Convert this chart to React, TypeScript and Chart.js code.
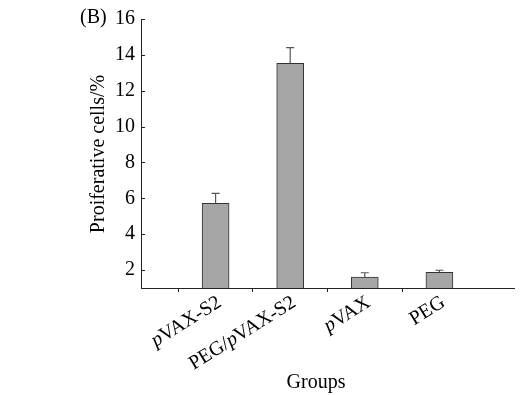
import React, { useEffect, useRef } from "react";
import { Chart, registerables } from "chart.js";

Chart.register(...registerables);

const categories = ["pVAX-S2", "PEG/pVAX-S2", "pVAX", "PEG"];
const means = [5.72, 13.53, 1.61, 1.88];
const errTops = [6.28, 14.4, 1.85, 1.99];
const yTicks = [2, 4, 6, 8, 10, 12, 14, 16];
const yTitle = "Proiferative cells/%";
const xTitle = "Groups";
const panelLabel = "(B)";

const FONT = "'Liberation Serif', 'Times New Roman', serif";
const FS = 20;

export default function App() {
  const ref = useRef<HTMLCanvasElement | null>(null);

  useEffect(() => {
    document.body.style.margin = "0";
    const labels = ["", ...categories, ""];
    const data = [null, ...means, null];

    const decor = {
      id: "decor",
      afterDatasetsDraw(chart: any) {
        const ctx = chart.ctx;
        const meta = chart.getDatasetMeta(0);
        const ys = chart.scales.y;
        ctx.save();
        ctx.strokeStyle = "#555";
        ctx.lineWidth = 1.2;
        meta.data.forEach((bar: any, i: number) => {
          const k = i - 1;
          if (k < 0 || k >= categories.length) return;
          const x = bar.x;
          const yTop = bar.y;
          const yErr = ys.getPixelForValue(errTops[k]);
          ctx.beginPath();
          ctx.moveTo(x, yTop);
          ctx.lineTo(x, yErr);
          ctx.moveTo(x - 4, yErr);
          ctx.lineTo(x + 4, yErr);
          ctx.stroke();
        });
        ctx.restore();
      },
      afterDraw(chart: any) {
        const ctx = chart.ctx;
        const xs = chart.scales.x;
        const ys = chart.scales.y;
        const area = chart.chartArea;
        ctx.save();
        // inward y ticks
        ctx.strokeStyle = "#222";
        ctx.lineWidth = 1;
        yTicks.forEach((v) => {
          const y = Math.round(ys.getPixelForValue(v)) + 0.5;
          ctx.beginPath();
          ctx.moveTo(area.left, y);
          ctx.lineTo(area.left + 4, y);
          ctx.stroke();
        });
        ctx.fillStyle = "#000";
        // x tick labels with italic p
        const angle = (-32 * Math.PI) / 180;
        categories.forEach((lab, k) => {
          const x = xs.getPixelForValue(k + 1);
          const parts: { t: string; it: boolean }[] = [];
          let buf = "";
          for (let i = 0; i < lab.length; i++) {
            const c = lab[i];
            if (c === "p") {
              if (buf) parts.push({ t: buf, it: false });
              buf = "";
              parts.push({ t: "p", it: true });
            } else buf += c;
          }
          if (buf) parts.push({ t: buf, it: false });
          let total = 0;
          const widths = parts.map((p) => {
            ctx.font = `${p.it ? "italic " : ""}${FS}px ${FONT}`;
            const w = ctx.measureText(p.t).width;
            total += w;
            return w;
          });
          ctx.save();
          ctx.translate(x + 4, area.bottom + 13);
          ctx.rotate(angle);
          ctx.textBaseline = "middle";
          ctx.textAlign = "left";
          let cx = -total;
          parts.forEach((p, i) => {
            ctx.font = `${p.it ? "italic " : ""}${FS}px ${FONT}`;
            ctx.fillText(p.t, cx, 0);
            cx += widths[i];
          });
          ctx.restore();
        });
        // titles
        ctx.font = `${FS}px ${FONT}`;
        ctx.textAlign = "center";
        ctx.textBaseline = "middle";
        ctx.fillText(xTitle, 316, 383);
        ctx.save();
        ctx.translate(99, 154);
        ctx.rotate(-Math.PI / 2);
        ctx.fillText(yTitle, 0, 0);
        ctx.restore();
        ctx.textAlign = "left";
        ctx.fillText(panelLabel, 80, 18);
        ctx.restore();
      },
    };

    const chart = new Chart(ref.current as HTMLCanvasElement, {
      type: "bar",
      data: {
        labels,
        datasets: [
          {
            data: data as any,
            backgroundColor: "#a6a6a6",
            borderColor: "#333",
            borderWidth: 1,
            barThickness: 27,
          },
        ],
      },
      options: {
        animation: false,
        responsive: true,
        maintainAspectRatio: false,
        layout: { padding: { top: 19, right: 9, left: 0, bottom: 0 } },
        plugins: { legend: { display: false }, tooltip: { enabled: false } },
        scales: {
          x: {
            type: "category",
            offset: false,
            border: { display: true, color: "#222", width: 1 },
            grid: {
              drawOnChartArea: false,
              drawTicks: true,
              tickLength: 4,
              color: (c: any) =>
                c.index === 0 || c.index === labels.length - 1 ? "rgba(0,0,0,0)" : "#222",
            },
            ticks: {
              color: "rgba(0,0,0,0)",
              autoSkip: false,
              maxRotation: 0,
              minRotation: 0,
            },
            afterFit: (s: any) => {
              s.height = 395 - 288;
            },
          },
          y: {
            min: 1,
            max: 16,
            border: { display: true, color: "#222", width: 1 },
            grid: { display: false, drawTicks: false, tickLength: 0 },
            ticks: {
              stepSize: 2,
              padding: 6,
              color: "#000",
              font: { family: FONT, size: FS },
            },
            afterBuildTicks: (s: any) => {
              s.ticks = yTicks.map((v) => ({ value: v }));
            },
            afterFit: (s: any) => {
              s.width = 141;
            },
          },
        },
      },
      plugins: [decor],
    });
    return () => chart.destroy();
  }, []);

  return (
    <div style={{ width: 523, height: 395, position: "relative" }}>
      <canvas ref={ref} />
    </div>
  );
}
